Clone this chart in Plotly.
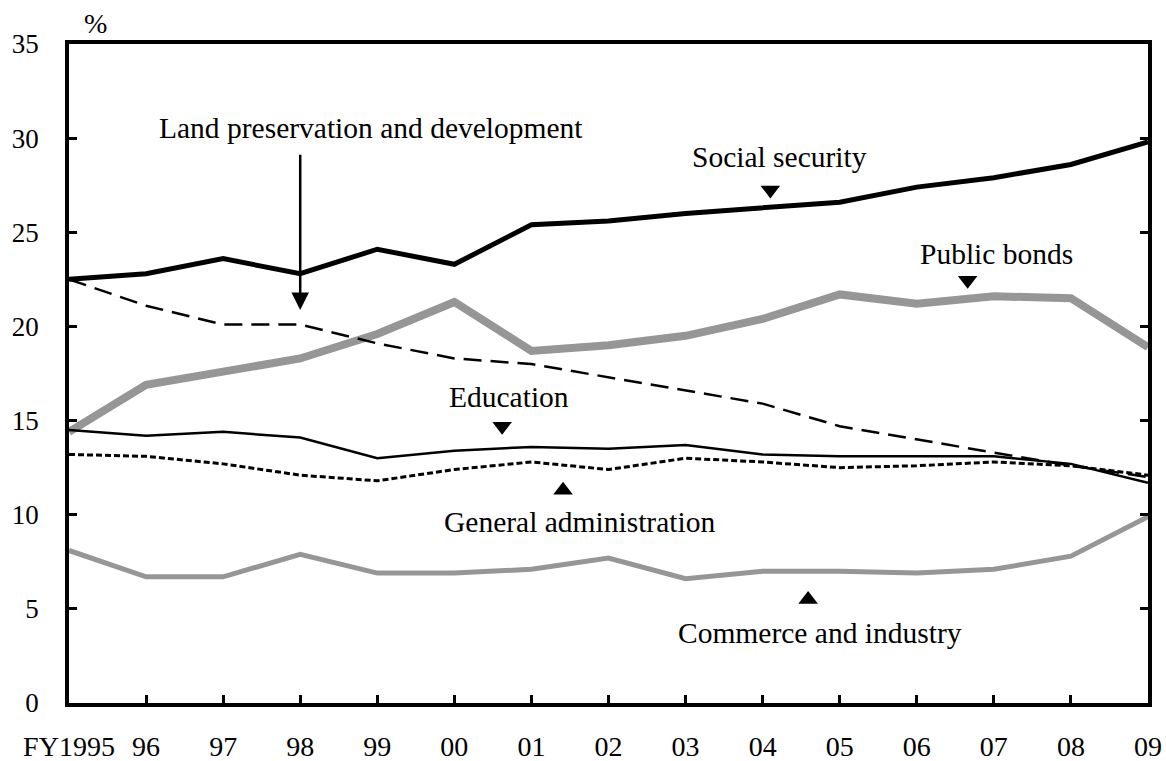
import plotly.graph_objects as go

years = list(range(1995, 2010))
tick_text = ["FY1995", "96", "97", "98", "99", "00", "01", "02", "03", "04", "05", "06", "07", "08", "09"]

social_security = [22.5, 22.8, 23.6, 22.8, 24.1, 23.3, 25.4, 25.6, 26.0, 26.3, 26.6, 27.4, 27.9, 28.6, 29.8]
public_bonds = [14.4, 16.9, 17.6, 18.3, 19.6, 21.3, 18.7, 19.0, 19.5, 20.4, 21.7, 21.2, 21.6, 21.5, 18.9]
land_preservation = [22.5, 21.1, 20.1, 20.1, 19.1, 18.3, 18.0, 17.3, 16.6, 15.9, 14.7, 14.0, 13.3, 12.6, 12.0]
education = [14.5, 14.2, 14.4, 14.1, 13.0, 13.4, 13.6, 13.5, 13.7, 13.2, 13.1, 13.1, 13.1, 12.7, 11.7]
general_admin = [13.2, 13.1, 12.7, 12.1, 11.8, 12.4, 12.8, 12.4, 13.0, 12.8, 12.5, 12.6, 12.8, 12.6, 12.1]
commerce_industry = [8.1, 6.7, 6.7, 7.9, 6.9, 6.9, 7.1, 7.7, 6.6, 7.0, 7.0, 6.9, 7.1, 7.8, 9.9]

GRAY = "rgb(150,150,150)"
FONT = "Liberation Serif, Times New Roman, serif"
LABEL_SIZE = 29.5

fig = go.Figure()

series = [
    ("Commerce and industry", commerce_industry, dict(color=GRAY, width=5)),
    ("Public bonds", public_bonds, dict(color=GRAY, width=8)),
    ("Land preservation and development", land_preservation, dict(color="black", width=2.5, dash="18px,9px")),
    ("General administration", general_admin, dict(color="black", width=3, dash="6px,3px")),
    ("Education", education, dict(color="black", width=2.5)),
    ("Social security", social_security, dict(color="black", width=5)),
]
for name, vals, line in series:
    fig.add_trace(go.Scatter(x=years, y=vals, mode="lines", name=name, line=line,
                             showlegend=False, hoverinfo="x+y+name"))

# label positions (layout): (text, text_x, text_y, marker_x, marker_y, marker symbol)
labels = [
    ("Social security", 2004.22, 29.0, 2004.10, 27.25, "triangle-down"),
    ("Public bonds", 2007.04, 23.85, 2006.66, 22.45, "triangle-down"),
    ("Education", 2000.71, 16.25, 2000.62, 14.70, "triangle-down"),
    ("General administration", 2001.63, 9.6, 2001.41, 11.30, "triangle-up"),
    ("Commerce and industry", 2004.74, 3.72, 2004.59, 5.50, "triangle-up"),
]
annotations = []
for text, tx, ty, mx, my, sym in labels:
    annotations.append(dict(x=tx, y=ty, xref="x", yref="y", text=text, showarrow=False,
                            font=dict(family=FONT, size=LABEL_SIZE, color="black"),
                            xanchor="center", yanchor="middle"))
    fig.add_trace(go.Scatter(x=[mx], y=[my], mode="markers", showlegend=False, hoverinfo="skip",
                             marker=dict(symbol=sym, size=17, color="black")))

annotations.append(dict(x=1998.92, y=30.55, xref="x", yref="y", text="Land preservation and development",
                        showarrow=False, font=dict(family=FONT, size=LABEL_SIZE, color="black"),
                        xanchor="center", yanchor="middle"))
annotations.append(dict(x=1998, y=20.87, xref="x", yref="y", ax=1998, ay=29.2, axref="x", ayref="y",
                        text="", showarrow=True, arrowhead=2, arrowsize=1.4, arrowwidth=2.5,
                        arrowcolor="black", standoff=0, startstandoff=0))

pl, pr, pt, pb = 69, 18, 44, 58
pw, ph = 1166 - pl - pr, 761 - pt - pb
annotations.append(dict(x=(95 - pl) / pw, y=(761 - pb - 23) / ph, xref="paper", yref="paper",
                        text="%", showarrow=False, font=dict(family=FONT, size=28, color="black"),
                        xanchor="center", yanchor="middle"))

fig.update_layout(
    width=1166, height=761,
    margin=dict(l=pl, r=pr, t=pt, b=pb, pad=0, autoexpand=False),
    paper_bgcolor="white", plot_bgcolor="white",
    font=dict(family=FONT, size=27, color="black"),
    annotations=annotations,
    showlegend=False,
)
fig.update_xaxes(range=[1995, 2009], tickvals=years, ticktext=tick_text, automargin=False,
                 showgrid=False, zeroline=False, showline=True, linecolor="black", linewidth=3.5,
                 mirror=True, ticks="inside", ticklen=8, tickwidth=2.5, tickcolor="black",
                 ticklabelstandoff=16, tickfont=dict(family=FONT, size=28, color="black"))
fig.update_yaxes(range=[0, 35], tick0=0, dtick=5, automargin=False,
                 showgrid=False, zeroline=False, showline=True, linecolor="black", linewidth=3.5,
                 mirror="ticks", ticks="inside", ticklen=8, tickwidth=2.5, tickcolor="black",
                 ticklabelstandoff=21, tickfont=dict(family=FONT, size=27, color="black"))

fig.write_html("out.html")
